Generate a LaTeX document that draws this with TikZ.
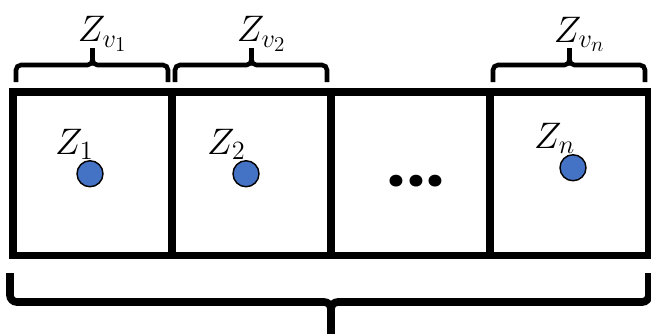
\documentclass[tikz,border=0pt]{standalone}
\usepackage{fix-cm}
\usepackage{fontspec}
\newfontfamily\dotfont{Poppins}
\DeclareMathSizes{21}{21}{15}{12}
\usetikzlibrary{positioning,calc}
\definecolor{PointBlue}{RGB}{68,114,196}
\tikzset{
  cellbox/.style={draw=black,line width=4.5pt,outer sep=0pt,inner sep=0pt,
    minimum width=3.18cm,minimum height=3.27cm},
  pointdot/.style={circle,draw=black,line width=0.8pt,fill=PointBlue,
    minimum size=0.52cm,inner sep=0pt},
  zlabel/.style={inner sep=0pt,font=\fontsize{21}{25}\selectfont},
  topbrace/.style={line width=2.6pt,rounded corners=0.1cm},
  bigbrace/.style={line width=4.4pt,rounded corners=0.14cm},
}

\begin{document}
\begin{tikzpicture}
  \useasboundingbox (-0.26,1.84) rectangle (12.76,-4.82);
  % row of cells
  \node[cellbox,anchor=north west] (c1) at (0,0) {};
  \node[cellbox,right=0pt of c1] (c2) {};
  \node[cellbox,right=0pt of c2] (c3) {};
  \node[cellbox,right=0pt of c3] (c4) {};
  \node[inner sep=0pt,font=\dotfont\bfseries\fontsize{36}{38}\selectfont]
    (gap) at ($(c3.center)+(0.11,-0.14)$) {.\kern1pt.\kern1pt.};
  % points
  \node[pointdot] (p1) at ($(c1.center)+(-0.05,0)$) {};
  \node[pointdot] (p2) at ($(c2.center)+(-0.11,0)$) {};
  \node[pointdot] (pn) at ($(c4.center)+(0.07,0.12)$) {};
  \node[zlabel,anchor=south east] (z1) at ($(p1.north)+(0.08,0)$) {$Z_1$};
  \node[zlabel,anchor=south east] (z2) at ($(p2.north)+(0,0)$) {$Z_2$};
  \node[zlabel,anchor=south east] (zn) at ($(pn.north)+(0.05,0)$) {$Z_n$};
  % braces over single cells
  \foreach \c/\t in {c1/{Z_{v_1}},c2/{Z_{v_2}},c4/{Z_{v_n}}}{
    \draw[topbrace] ([xshift=0.06cm,yshift=0.2cm]\c.north west)
      |- ([yshift=0.54cm]\c.north) -- ([yshift=0.88cm]\c.north);
    \draw[topbrace] ([xshift=-0.08cm,yshift=0.2cm]\c.north east)
      |- ([yshift=0.54cm]\c.north) -- ([yshift=0.88cm]\c.north)
      node[zlabel,anchor=south,xshift=0.2cm,yshift=-0.12cm] (lab-\c) {$\t$};
  }
  % brace under all cells
  \coordinate (mid) at ($(c1.south west)!0.5!(c4.south east)$);
  \draw[bigbrace] ([xshift=-0.06cm,yshift=-0.35cm]c1.south west)
    |- ([yshift=-0.93cm]mid) -- ([yshift=-1.8cm]mid);
  \draw[bigbrace] ([yshift=-0.35cm]c4.south east)
    |- ([yshift=-0.93cm]mid) -- ([yshift=-1.8cm]mid);
\end{tikzpicture}
\end{document}
